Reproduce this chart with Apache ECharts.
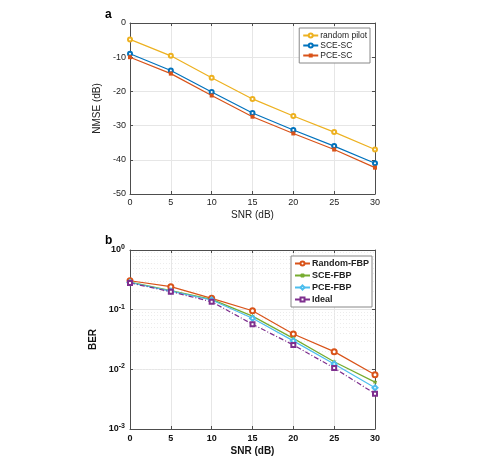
<!DOCTYPE html>
<html>
<head>
<meta charset="utf-8">
<script src="https://cdn.jsdelivr.net/npm/echarts@6/dist/echarts.min.js"></script>
<style>
  html, body { margin: 0; padding: 0; background: #fff; }
  #chart { width: 482px; height: 459px; }
</style>
</head>
<body>
<div id="chart"></div>
<script>
// x values (SNR, dB) shared by both panels
const snr = [0, 5, 10, 15, 20, 25, 30];

// panel a: NMSE (dB)
const randomPilot = [-4.8, -9.6, -16.0, -22.2, -27.2, -31.9, -37.0];
const sceSC = [-9.0, -13.9, -20.2, -26.3, -31.3, -36.0, -41.0];
const pceSC = [-10.0, -14.8, -21.2, -27.4, -32.3, -37.0, -42.3];

// panel b: BER
const randomFBP = [0.305, 0.243, 0.155, 0.096, 0.039, 0.0198, 0.0081];
const sceFBP = [0.29, 0.208, 0.149, 0.078, 0.033, 0.0134, 0.0061];
const pceFBP = [0.285, 0.205, 0.145, 0.0716, 0.030, 0.0123, 0.0049];
const ideal = [0.28, 0.2, 0.136, 0.057, 0.0256, 0.0105, 0.0039];

// minor grid lines of the log axis
const minorTicks = [];
[0.001, 0.01, 0.1].forEach(d => {
  for (let k = 2; k <= 9; k++) minorTicks.push(+(d * k).toPrecision(3));
});

const C = {
  orange: '#D95319', yellow: '#EDB120', blue: '#0072BD',
  purple: '#7E2F8E', green: '#77AC30', cyan: '#4DBEEE'
};
const FONT = '"Liberation Sans", Arial, sans-serif';
const AXC = '#4d4d4d';
const asterisk = 'path://M0,-5L0,5M-4.33,-2.5L4.33,2.5M-4.33,2.5L4.33,-2.5';

const pairs = ys => snr.map((x, i) => [x, ys[i]]);

function mirrorX(grid) {
  return {
    gridIndex: grid, type: 'value', position: 'top', min: 0, max: 30, interval: 5,
    axisLine: { show: true, lineStyle: { color: AXC } },
    axisTick: { show: true, inside: true, length: 3, lineStyle: { color: AXC } },
    axisLabel: { show: false }, splitLine: { show: false }
  };
}

const chart = echarts.init(document.getElementById('chart'), null, { renderer: 'canvas' });

const option = {
  backgroundColor: '#fff',
  animation: false,
  textStyle: { fontFamily: FONT },
  title: [
    { text: 'a', left: 100, top: 4, textStyle: { fontSize: 12, fontWeight: 'bold', color: '#000', fontFamily: FONT } },
    { text: 'b', left: 100, top: 230, textStyle: { fontSize: 12, fontWeight: 'bold', color: '#000', fontFamily: FONT } }
  ],
  grid: [
    { left: 130, top: 23, width: 245, height: 171 },
    { left: 130, top: 250, width: 245, height: 179 }
  ],
  legend: [
    {
      orient: 'vertical', right: 112, top: 28, itemGap: 1, itemWidth: 15, itemHeight: 5,
      padding: [3, 3, 3, 3], borderColor: '#888', borderWidth: 1, backgroundColor: '#fff',
      textStyle: { fontSize: 8.5, color: '#222', fontFamily: FONT, padding: [0, 0, 0, -3] },
      data: ['random pilot', 'SCE-SC', 'PCE-SC']
    },
    {
      orient: 'vertical', right: 110, top: 256, itemGap: 3, itemWidth: 15, itemHeight: 5,
      padding: [3, 3, 3, 3], borderColor: '#888', borderWidth: 1, backgroundColor: '#fff',
      textStyle: { fontSize: 9, fontWeight: 'bold', color: '#222', fontFamily: FONT, padding: [0, 0, 0, -3] },
      data: ['Random-FBP', 'SCE-FBP', 'PCE-FBP', 'Ideal']
    }
  ],
  xAxis: [
    {
      gridIndex: 0, type: 'value', min: 0, max: 30, interval: 5,
      name: 'SNR (dB)', nameLocation: 'middle', nameGap: 16,
      nameTextStyle: { fontSize: 10, color: '#222', fontFamily: FONT },
      axisLine: { show: true, onZero: false, lineStyle: { color: AXC } },
      axisTick: { show: true, inside: true, length: 3, lineStyle: { color: AXC } },
      axisLabel: { fontSize: 9, color: '#222', margin: 4, fontFamily: FONT },
      splitLine: { show: true, lineStyle: { color: '#e6e6e6', width: 1 } }
    },
    mirrorX(0),
    {
      gridIndex: 1, type: 'value', min: 0, max: 30, interval: 5,
      name: 'SNR (dB)', nameLocation: 'middle', nameGap: 17,
      nameTextStyle: { fontSize: 10, fontWeight: 'bold', color: '#111', fontFamily: FONT },
      axisLine: { show: true, onZero: false, lineStyle: { color: AXC } },
      axisTick: { show: true, inside: true, length: 3, lineStyle: { color: AXC } },
      axisLabel: { fontSize: 9, fontWeight: 'bold', color: '#111', margin: 5, fontFamily: FONT },
      splitLine: { show: true, lineStyle: { color: '#e6e6e6', width: 1 } }
    },
    mirrorX(1)
  ],
  yAxis: [
    {
      gridIndex: 0, type: 'value', min: -50, max: 0, interval: 10,
      name: 'NMSE (dB)', nameLocation: 'middle', nameGap: 22,
      nameTextStyle: { fontSize: 10, color: '#222', fontFamily: FONT },
      axisLine: { show: true, onZero: false, lineStyle: { color: AXC } },
      axisTick: { show: true, inside: true, length: 3, lineStyle: { color: AXC } },
      axisLabel: { fontSize: 9, color: '#222', margin: 4, fontFamily: FONT },
      splitLine: { show: true, lineStyle: { color: '#e6e6e6', width: 1 } }
    },
    {
      gridIndex: 0, type: 'value', position: 'right', min: -50, max: 0, interval: 10,
      axisLine: { show: true, onZero: false, lineStyle: { color: AXC } },
      axisTick: { show: true, inside: true, length: 3, lineStyle: { color: AXC } },
      axisLabel: { show: false }, splitLine: { show: false }
    },
    {
      gridIndex: 1, type: 'log', logBase: 10, min: 0.001, max: 1,
      name: 'BER', nameLocation: 'middle', nameGap: 26,
      nameTextStyle: { fontSize: 10, fontWeight: 'bold', color: '#111', fontFamily: FONT },
      axisLine: { show: true, onZero: false, lineStyle: { color: AXC } },
      axisTick: { show: true, inside: true, length: 3, lineStyle: { color: AXC } },
      axisLabel: {
        margin: 5,
        formatter: v => '{b|10}{s|' + Math.round(Math.log10(v)) + '}',
        rich: {
          b: { fontSize: 9, fontWeight: 'bold', color: '#111', fontFamily: FONT },
          s: { fontSize: 7, fontWeight: 'bold', color: '#111', fontFamily: FONT, verticalAlign: 'top', padding: [0, 0, 6, 0] }
        }
      },
      splitLine: { show: true, lineStyle: { color: '#e6e6e6', width: 1 } }
    },
    {
      gridIndex: 1, type: 'log', logBase: 10, min: 0.001, max: 1, position: 'right',
      axisLine: { show: true, onZero: false, lineStyle: { color: AXC } },
      axisTick: { show: true, inside: true, length: 3, lineStyle: { color: AXC } },
      axisLabel: { show: false }, splitLine: { show: false }
    }
  ],
  series: [
    {
      name: 'random pilot', type: 'line', xAxisIndex: 0, yAxisIndex: 0,
      data: pairs(randomPilot), color: C.yellow, symbol: 'emptyCircle', symbolSize: 4,
      lineStyle: { width: 1.2 }, itemStyle: { borderWidth: 1.2 }
    },
    {
      name: 'SCE-SC', type: 'line', xAxisIndex: 0, yAxisIndex: 0,
      data: pairs(sceSC), color: C.blue, symbol: 'emptyCircle', symbolSize: 4,
      lineStyle: { width: 1.2 }, itemStyle: { borderWidth: 1.2 }
    },
    {
      name: 'PCE-SC', type: 'line', xAxisIndex: 0, yAxisIndex: 0,
      data: pairs(pceSC), color: C.orange, symbol: 'rect', symbolSize: 4,
      lineStyle: { width: 1.2 }
    },
    {
      name: 'Random-FBP', type: 'line', xAxisIndex: 2, yAxisIndex: 2,
      data: pairs(randomFBP), color: C.orange, symbol: 'emptyCircle', symbolSize: 5,
      lineStyle: { width: 1.2 }, itemStyle: { borderWidth: 1.1 },
      markLine: {
        silent: true, symbol: 'none', label: { show: false }, z: 0,
        lineStyle: { color: '#ececec', width: 1, type: [1, 2] },
        data: minorTicks.map(v => ({ yAxis: v }))
      }
    },
    {
      name: 'SCE-FBP', type: 'line', xAxisIndex: 2, yAxisIndex: 2,
      data: pairs(sceFBP), color: C.green, symbol: asterisk, symbolSize: 4,
      lineStyle: { width: 1.2 }, itemStyle: { borderColor: C.green, borderWidth: 1 }
    },
    {
      name: 'PCE-FBP', type: 'line', xAxisIndex: 2, yAxisIndex: 2,
      data: pairs(pceFBP), color: C.cyan, symbol: 'emptyDiamond', symbolSize: 5,
      lineStyle: { width: 1.2 }, itemStyle: { borderWidth: 1.1 }
    },
    {
      name: 'Ideal', type: 'line', xAxisIndex: 2, yAxisIndex: 2,
      data: pairs(ideal), color: C.purple, symbol: 'emptyRect', symbolSize: 4,
      lineStyle: { width: 1.2, type: [5, 2, 1, 2] }, itemStyle: { borderWidth: 1.1 }
    }
  ]
};

chart.setOption(option);
</script>
</body>
</html>
